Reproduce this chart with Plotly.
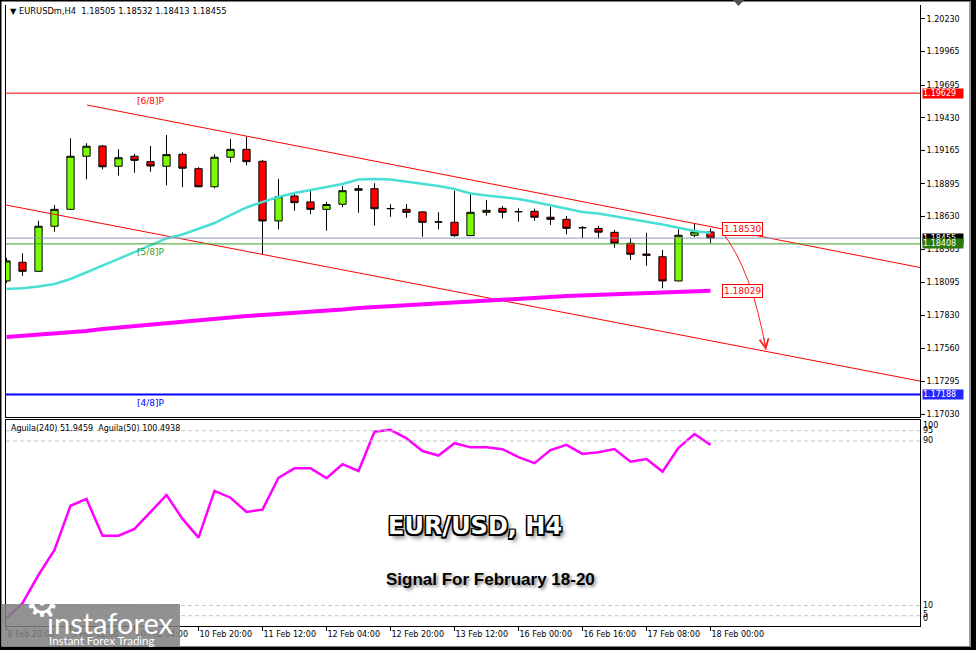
import plotly.graph_objects as go

# ---------------- data ----------------
TIME_TICK_IDX = [0, 4, 8, 12, 16, 20, 24, 28, 32, 36, 40, 44]
TIME_LABELS = ["8 Feb 20:00", "9 Feb 12:00", "10 Feb 04:00", "10 Feb 20:00", "11 Feb 12:00",
               "12 Feb 04:00", "12 Feb 20:00", "13 Feb 12:00", "16 Feb 00:00", "16 Feb 16:00",
               "17 Feb 08:00", "18 Feb 00:00"]

OPEN = [1.18108, 1.18259, 1.18186, 1.18551, 1.18688, 1.19118, 1.19201, 1.19037, 1.19118, 1.19074,
        1.19037, 1.19134, 1.19017, 1.18871, 1.19110, 1.19174, 1.19077, 1.18594, 1.18796, 1.18748,
        1.18688, 1.18729, 1.18842, 1.18855, 1.18694, 1.18688, 1.18667, 1.18586, 1.18583, 1.18475,
        1.18664, 1.18696, 1.18669, 1.18672, 1.18624, 1.18607, 1.18539, 1.18533, 1.18502, 1.18413,
        1.18326, 1.18304, 1.18108, 1.18478, 1.18505]
HIGH = [1.18294, 1.18332, 1.18596, 1.18723, 1.19264, 1.19223, 1.19209, 1.19174, 1.19136, 1.19201,
        1.19290, 1.19150, 1.19029, 1.19134, 1.19258, 1.19277, 1.19088, 1.18934, 1.18812, 1.18845,
        1.18748, 1.18877, 1.18885, 1.18899, 1.18729, 1.18731, 1.18675, 1.18664, 1.18839, 1.18826,
        1.18764, 1.18715, 1.18696, 1.18693, 1.18709, 1.18634, 1.18553, 1.18553, 1.18521, 1.18453,
        1.18499, 1.18359, 1.18526, 1.18575, 1.18532]
LOW = [1.18091, 1.18150, 1.18184, 1.18507, 1.18685, 1.18931, 1.19012, 1.18961, 1.18985, 1.18993,
       1.18883, 1.18867, 1.18867, 1.18858, 1.19069, 1.19045, 1.18324, 1.18526, 1.18677, 1.18648,
       1.18515, 1.18705, 1.18661, 1.18556, 1.18628, 1.18620, 1.18466, 1.18526, 1.18466, 1.18472,
       1.18637, 1.18615, 1.18588, 1.18596, 1.18561, 1.18486, 1.18453, 1.18453, 1.18377, 1.18278,
       1.18231, 1.18048, 1.18105, 1.18462, 1.18413]
CLOSE = [1.18270, 1.18186, 1.18551, 1.18688, 1.19118, 1.19199, 1.19033, 1.19106, 1.19085, 1.19039,
         1.19131, 1.19021, 1.18871, 1.19110, 1.19174, 1.19074, 1.18594, 1.18790, 1.18742, 1.18688,
         1.18727, 1.18839, 1.18855, 1.18693, 1.18694, 1.18664, 1.18583, 1.18586, 1.18475, 1.18664,
         1.18680, 1.18664, 1.18669, 1.18624, 1.18607, 1.18534, 1.18539, 1.18503, 1.18413, 1.18324,
         1.18316, 1.18108, 1.18478, 1.18505, 1.18455]

MA_FAST = [1.18043, 1.18048, 1.18063, 1.18083, 1.18124, 1.18176, 1.18233, 1.18286, 1.18342, 1.18399,
           1.18452, 1.18484, 1.18529, 1.18577, 1.18642, 1.18703, 1.18748, 1.18788, 1.18820, 1.18845,
           1.18865, 1.18893, 1.18930, 1.18934, 1.18930, 1.18914, 1.18897, 1.18877, 1.18853, 1.18816,
           1.18800, 1.18788, 1.18772, 1.18748, 1.18719, 1.18695, 1.18667, 1.18654, 1.18630, 1.18610,
           1.18588, 1.18565, 1.18537, 1.18513, 1.18496]
MA_SLOW = [1.17654, 1.17662, 1.17670, 1.17682, 1.17690, 1.17702, 1.17719, 1.17731, 1.17743, 1.17759,
           1.17767, 1.17779, 1.17792, 1.17804, 1.17812, 1.17824, 1.17832, 1.17840, 1.17848, 1.17856,
           1.17869, 1.17877, 1.17889, 1.17897, 1.17905, 1.17913, 1.17921, 1.17929, 1.17937, 1.17946,
           1.17954, 1.17962, 1.17970, 1.17974, 1.17978, 1.17986, 1.17990, 1.17994, 1.18002, 1.18006,
           1.18010, 1.18014, 1.18018, 1.18022, 1.18029]

AGUILA = [3.9, 11.1, 24.8, 37.0, 58.5, 61.8, 43.9, 43.9, 47.2, 55.6,
          63.7, 52.1, 43.0, 65.7, 62.4, 55.5, 56.6, 72.1, 76.7, 76.7,
          71.9, 78.7, 75.4, 94.5, 95.4, 91.3, 85.1, 82.9, 88.9, 86.9,
          86.9, 86.0, 82.1, 79.2, 85.6, 88.1, 83.7, 84.5, 86.1, 79.9,
          81.2, 75.1, 86.7, 93.4, 88.1]
AGUILA_LEVELS = [95, 90, 10, 5]
AGUILA_SCALE = [100, 95, 90, 10, 5, 0]
AGUILA_TEXT = "Aguila(240) 51.9459  Aguila(50) 100.4938"

PRICE_TICKS = [1.20230, 1.19965, 1.19695, 1.19430, 1.19165, 1.18895, 1.18630,
               1.18365, 1.18095, 1.17830, 1.17560, 1.17295, 1.17030]

LEVEL_NAMES = ["[6/8]P", "[5/8]P", "[4/8]P"]
LEVEL_VALUES = [1.19629, 1.18408, 1.17188]
LEVEL_COLORS = ["#ff0000", "#3a9d23", "#0000ff"]
LEVEL_LABEL_BG = ["#ff0000", "#2b7a0b", "#2626ff"]
LEVEL_WIDTHS = [1, 1, 2]
BID = 1.18455

CH_UPPER_X = [5.03, 57.09]
CH_UPPER_Y = [1.19533, 1.18217]
CH_LOWER_X = [-0.03, 57.09]
CH_LOWER_Y = [1.18723, 1.17297]
CHANNEL_LABEL = 1.18530
MA_LABEL = 1.18029

ARROW_X = [44.72, 46.59, 47.47]
ARROW_Y = [1.18505, 1.18197, 1.17549]

SYMBOL = "EURUSDm,H4"
TITLE = "EUR/USD, H4"
SUBTITLE = "Signal For February 18-20"

# ---------------- layout helpers ----------------
W, H = 976, 650
ML, MR, MT, MB = 6, 56, 5, 24
PW, PH = W - ML - MR, H - MT - MB


def px(x):
    return (x - ML) / PW


def py(y):
    return (H - MB - y) / PH


MAIN_DOM = [py(417), 1.0]
IND_DOM = [0.0, py(420)]
XR = [-0.03125, 57.09375]
N = len(OPEN)
IDX = list(range(N))
AX_FONT = dict(family="DejaVu Sans", size=8, color="black")

fig = go.Figure()

fig.add_trace(go.Candlestick(
    x=IDX, open=OPEN, high=HIGH, low=LOW, close=CLOSE,
    xaxis="x2", yaxis="y",
    increasing=dict(fillcolor="#7cfc00", line=dict(color="black", width=1)),
    decreasing=dict(fillcolor="#ff0000", line=dict(color="black", width=1)),
    whiskerwidth=0, hoverinfo="skip"))

# channel lines
for cx, cy in [(CH_UPPER_X, CH_UPPER_Y), (CH_LOWER_X, CH_LOWER_Y)]:
    fig.add_trace(go.Scatter(x=cx, y=cy, mode="lines", xaxis="x2", yaxis="y",
                             line=dict(color="#ff0000", width=1), hoverinfo="skip"))

fig.add_trace(go.Scatter(x=IDX, y=MA_FAST, mode="lines", xaxis="x2", yaxis="y",
                         line=dict(color="#48e0d4", width=2.5), hoverinfo="skip"))
fig.add_trace(go.Scatter(x=IDX, y=MA_SLOW, mode="lines", xaxis="x2", yaxis="y",
                         line=dict(color="#ff00ff", width=4), hoverinfo="skip"))

fig.add_trace(go.Scatter(x=IDX, y=AGUILA, mode="lines", xaxis="x", yaxis="y2",
                         line=dict(color="#ff00ff", width=2.5), hoverinfo="skip"))

shapes = []
annotations = []

# horizontal levels
shapes.append(dict(type="line", xref="paper", yref="y", x0=0, x1=1, y0=BID, y1=BID,
                   line=dict(color="#8a9ab8", width=1)))
for name, val, col, w in zip(LEVEL_NAMES, LEVEL_VALUES, LEVEL_COLORS, LEVEL_WIDTHS):
    shapes.append(dict(type="line", xref="paper", yref="y", x0=0, x1=1, y0=val, y1=val,
                       line=dict(color=col, width=w)))
    annotations.append(dict(xref="x2", yref="y", x=8.0, y=val, text=name, showarrow=False,
                            xanchor="left", yanchor="top", yshift=-1,
                            font=dict(family="DejaVu Sans", size=9, color=col)))

# indicator level lines
for lv in AGUILA_LEVELS:
    shapes.append(dict(type="line", xref="paper", yref="y2", x0=0, x1=1, y0=lv, y1=lv,
                       line=dict(color="#c4c4c4", width=1, dash="4px,3px")))

# curved arrow
shapes.append(dict(type="path", xref="x2", yref="y",
                   path=f"M {ARROW_X[0]},{ARROW_Y[0]} Q {ARROW_X[1]},{ARROW_Y[1]} {ARROW_X[2]},{ARROW_Y[2]}",
                   line=dict(color="#ff2020", width=1)))
annotations.append(dict(xref="x2", yref="y", x=ARROW_X[2], y=ARROW_Y[2], text="",
                        showarrow=True, arrowhead=5, arrowsize=1.8, arrowwidth=1,
                        arrowcolor="#ff2020", ax=-2.5, ay=-14))

# right-side price labels
annotations.append(dict(xref="paper", yref="y", x=1, y=BID, xanchor="left", xshift=2,
                        text=f"{BID:.5f}", showarrow=False, bgcolor="black", borderpad=0,
                        width=40, align="left", font=dict(family="DejaVu Sans", size=8, color="white")))
for val, bg in zip(LEVEL_VALUES, LEVEL_LABEL_BG):
    annotations.append(dict(xref="paper", yref="y", x=1, y=val, xanchor="left", xshift=2,
                            text=f"{val:.5f}", showarrow=False, bgcolor=bg, borderpad=0,
                            width=40, align="left",
                            font=dict(family="DejaVu Sans", size=8, color="white")))

# in-chart value labels
for val in [CHANNEL_LABEL, MA_LABEL]:
    annotations.append(dict(xref="x2", yref="y", x=N - 1 + 0.7, y=val, xanchor="left",
                            text=f"{val:.5f}", showarrow=False, bgcolor="white",
                            bordercolor="#ff0000", borderwidth=1, borderpad=1,
                            font=dict(family="DejaVu Sans", size=9, color="#ff0000")))

# indicator scale labels
shifts = {100: -5.5, 95: 0, 90: 0, 10: 0, 5: 1.5, 0: 7.5}
for lv in AGUILA_SCALE:
    annotations.append(dict(xref="paper", yref="y2", x=1, y=lv, xanchor="left", xshift=1,
                            yshift=shifts[lv], text=str(lv), showarrow=False,
                            font=dict(family="DejaVu Sans", size=8, color="black")))

# header texts
annotations.append(dict(xref="paper", yref="paper", x=px(8), y=py(11), xanchor="left",
                        yanchor="middle", showarrow=False,
                        text=f"\u25BC {SYMBOL}  {OPEN[-1]:.5f} {HIGH[-1]:.5f} {LOW[-1]:.5f} {CLOSE[-1]:.5f}",
                        font=dict(family="DejaVu Sans", size=8.3, color="black")))
annotations.append(dict(xref="paper", yref="paper", x=px(9), y=py(429), xanchor="left",
                        yanchor="middle", showarrow=False, text=AGUILA_TEXT,
                        font=dict(family="DejaVu Sans", size=8, color="black")))

# big titles
annotations.append(dict(xref="paper", yref="paper", x=px(386), y=py(526), xanchor="left",
                        yanchor="middle", showarrow=False, text=TITLE,
                        font=dict(family="DejaVu Sans", size=24, color="white", weight="bold",
                                  shadow="-1.5px -1.5px 0 #000, 1.5px -1.5px 0 #000, -1.5px 1.5px 0 #000, "
                                         "1.5px 1.5px 0 #000, 0 1.5px 0 #000, 0 -1.5px 0 #000, "
                                         "3px 4px 4px rgba(0,0,0,0.55)")))
annotations.append(dict(xref="paper", yref="paper", x=px(384), y=py(579), xanchor="left",
                        yanchor="middle", showarrow=False, text=SUBTITLE,
                        font=dict(family="Liberation Sans", size=17, color="black", weight="bold",
                                  shadow="2px 2px 3px rgba(0,0,0,0.45)")))

# outer frame
shapes += [
    dict(type="rect", xref="paper", yref="paper", x0=px(0), x1=px(1.5), y0=py(650), y1=py(0),
         fillcolor="black", line=dict(width=0), layer="above"),
    dict(type="rect", xref="paper", yref="paper", x0=px(0), x1=px(976), y0=py(1.5), y1=py(0),
         fillcolor="black", line=dict(width=0), layer="above"),
    dict(type="rect", xref="paper", yref="paper", x0=px(0), x1=px(976), y0=py(650), y1=py(646.5),
         fillcolor="black", line=dict(width=0), layer="above"),
    dict(type="rect", xref="paper", yref="paper", x0=px(969), x1=px(971), y0=py(646.5), y1=py(1.5),
         fillcolor="#9a9a9a", line=dict(width=0), layer="above"),
    dict(type="rect", xref="paper", yref="paper", x0=px(971), x1=px(976), y0=py(650), y1=py(0),
         fillcolor="black", line=dict(width=0), layer="above"),
    dict(type="path", xref="paper", yref="paper",
         path=f"M {px(733)},{py(0)} L {px(744)},{py(0)} L {px(738.5)},{py(6)} Z",
         fillcolor="#505050", line=dict(width=0), layer="above"),
]

# watermark
shapes.append(dict(type="rect", xref="paper", yref="paper", x0=px(1.5), x1=px(180),
                   y0=py(646.5), y1=py(604), fillcolor="rgba(128,128,128,0.86)",
                   line=dict(width=0), layer="above"))
annotations.append(dict(xref="paper", yref="paper", x=px(23), y=py(627), showarrow=False,
                        text="\u2699", font=dict(family="DejaVu Sans", size=38, color="white")))
annotations.append(dict(xref="paper", yref="paper", x=px(45), y=py(622), xanchor="left",
                        yanchor="middle", showarrow=False, text="instaforex",
                        font=dict(family="Lato", size=29, color="white")))
annotations.append(dict(xref="paper", yref="paper", x=px(47), y=py(640), xanchor="left",
                        yanchor="middle", showarrow=False, text="Instant Forex Trading",
                        font=dict(family="Lato", size=11.5, color="white")))

fig.update_layout(
    width=W, height=H, margin=dict(l=ML, r=MR, t=MT, b=MB),
    paper_bgcolor="white", plot_bgcolor="white", showlegend=False, hovermode=False,
    boxgap=0.35,
    xaxis=dict(domain=[0, 1], anchor="y2", range=XR, tickvals=TIME_TICK_IDX, ticktext=TIME_LABELS,
               ticks="outside", ticklen=4, tickcolor="black", ticklabelposition="outside right",
               showline=True, linecolor="black", linewidth=1, mirror=True,
               showgrid=False, zeroline=False, tickfont=AX_FONT,
               rangeslider=dict(visible=False), fixedrange=True),
    xaxis2=dict(domain=[0, 1], anchor="y", range=XR, showticklabels=False, ticks="",
                showline=True, linecolor="black", linewidth=1, showgrid=False, zeroline=False,
                rangeslider=dict(visible=False), fixedrange=True),
    yaxis=dict(domain=MAIN_DOM, anchor="x2", side="right", range=[1.17006, 1.20343],
               tickvals=PRICE_TICKS, ticktext=[f"{v:.5f}" for v in PRICE_TICKS],
               ticks="outside", ticklen=4, tickcolor="black", showline=True, linecolor="black",
               linewidth=1, mirror=True, showgrid=False, zeroline=False, tickfont=AX_FONT,
               fixedrange=True),
    yaxis2=dict(domain=IND_DOM, anchor="x", side="right", range=[0.0, 100.2],
                showticklabels=False, ticks="", showline=True, linecolor="black", linewidth=1,
                mirror=True, showgrid=False, zeroline=False, fixedrange=True),
    shapes=shapes, annotations=annotations,
)

fig.write_html("out.html", config={"displayModeBar": False},
               post_script="document.body.style.margin='0';document.body.style.overflow='hidden';")
